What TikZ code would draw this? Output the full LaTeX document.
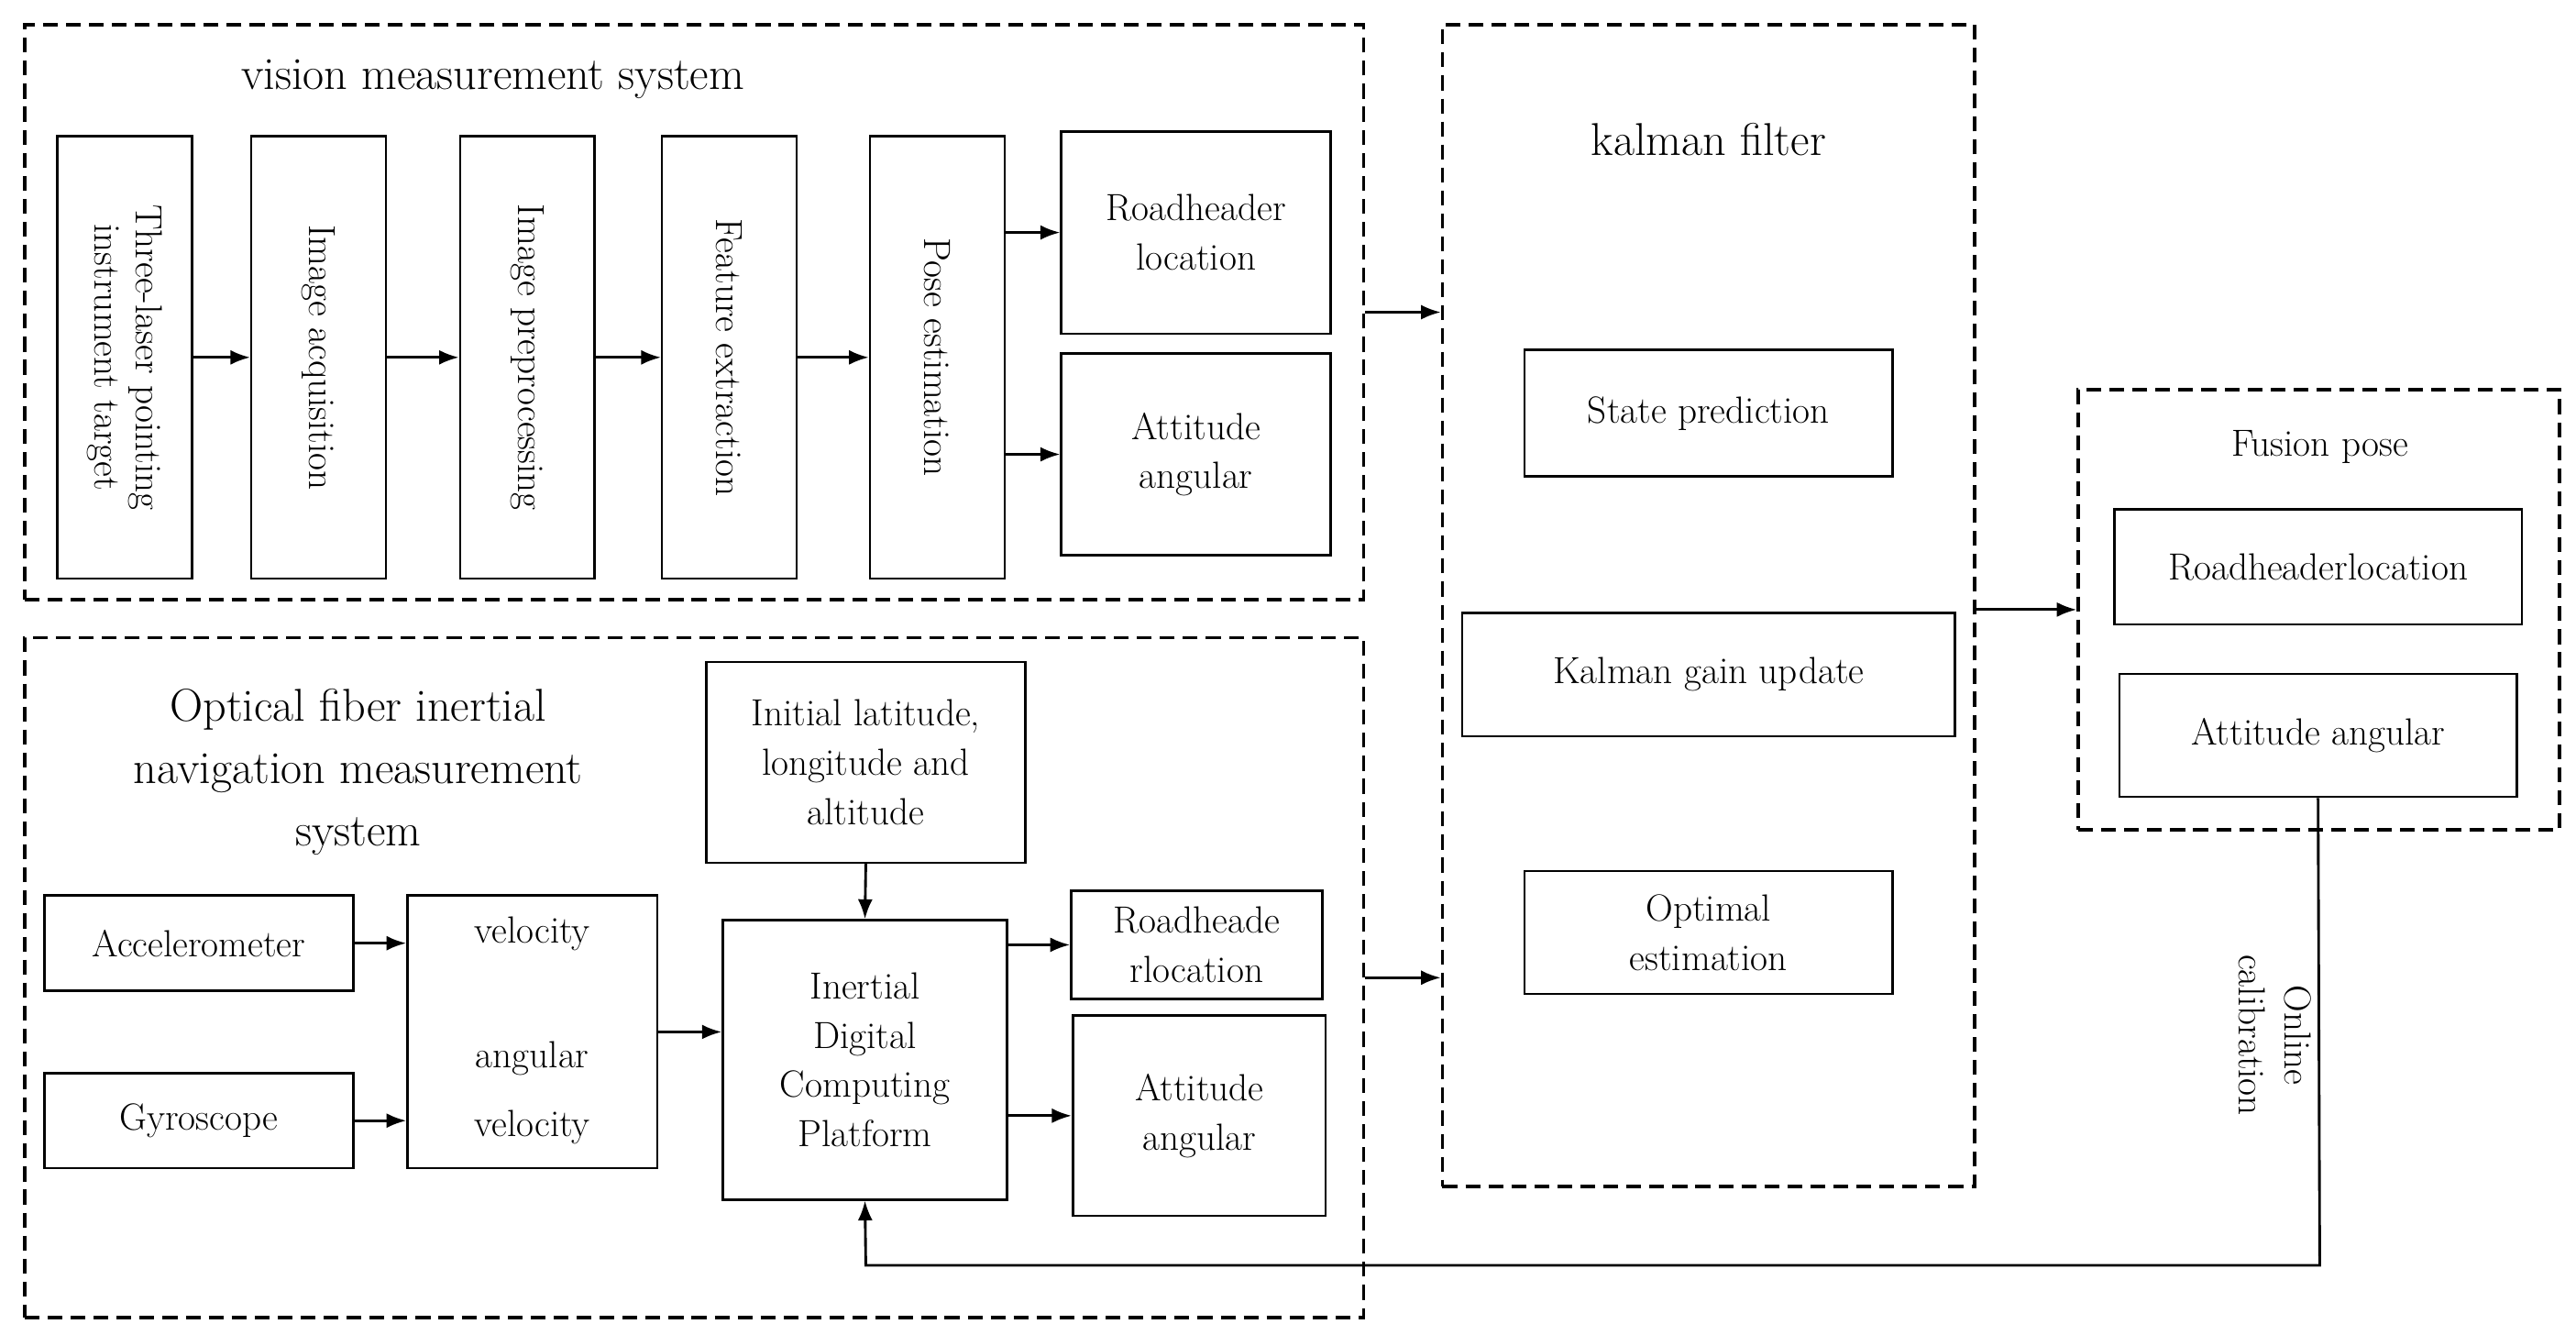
\documentclass[tikz,border=0pt]{standalone}
\usetikzlibrary{arrows.meta}
\begin{document}
\begin{tikzpicture}[x=1pt,y=-1pt,
 box/.style={draw,line width=1.4pt,align=center,inner sep=2pt,font=\fontsize{23}{30}\selectfont},
 grp/.style={draw,line width=2pt,dash pattern=on 9pt off 5pt},
 arr/.style={line width=1.6pt,-{Latex[length=12pt,width=9pt]}},
 ttl/.style={align=center,font=\fontsize{28}{38}\selectfont}]
\useasboundingbox (0,0) rectangle (1568,812);
% groups
\node[grp,minimum width=815,minimum height=350,inner sep=0] (vis) at (422.5,190) {};
\node[grp,minimum width=815,minimum height=414,inner sep=0] (ins) at (422.5,595) {};
\node[grp,minimum width=324,minimum height=707,inner sep=0] (kal) at (1040,368.5) {};
\node[grp,minimum width=293,minimum height=268,inner sep=0] (fus) at (1411.5,371) {};
\node[ttl] (tv) at (300,48) {vision measurement system};
\node[ttl] (tk) at (1040,85) {kalman filter};
\node[ttl,font=\fontsize{23}{28}\selectfont] (tf) at (1412,272) {Fusion pose};
\node[ttl] (ti) at (218,470) {Optical fiber inertial\\navigation measurement\\system};
% vision
\foreach \n/\c/\t in {a/76/{Three-laser pointing\\instrument target},b/194/Image acquisition,c/321/Image preprocessing,d/444/Feature extraction,e/570.5/Pose estimation}
  \node[box,rotate=-90,minimum width=269,minimum height=82,font=\fontsize{23}{25}\selectfont] (\n) at (\c,217.5) {\t};
\node[box,minimum width=164,minimum height=123] (vr) at (728,141.5) {Roadheader\\location};
\node[box,minimum width=164,minimum height=123] (va) at (728,276.5) {Attitude\\angular};
\draw[arr] (a.north) -- (b.south);
\draw[arr] (b.north) -- (c.south);
\draw[arr] (c.north) -- (d.south);
\draw[arr] (d.north) -- (e.south);
\draw[arr] (vr.west -| e.north) -- (vr.west);
\draw[arr] (va.west -| e.north) -- (va.west);
% kalman
\node[box,minimum width=224,minimum height=77] (sp) at (1040,251.5) {State prediction};
\node[box,minimum width=300,minimum height=75] (kg) at (1040,410.5) {Kalman gain update};
\node[box,minimum width=224,minimum height=75] (oe) at (1040,567.5) {Optimal\\estimation};
% fusion
\node[box,minimum width=248,minimum height=70] (fr) at (1411,345) {Roadheaderlocation};
\node[box,minimum width=242,minimum height=75] (fa) at (1411,447.5) {Attitude angular};
% inertial
\node[box,minimum width=194,minimum height=122] (il) at (527,464) {Initial latitude,\\longitude and\\altitude};
\node[box,minimum width=173,minimum height=170] (ip) at (526.5,645) {Inertial\\Digital\\Computing\\Platform};
\node[box,minimum width=153,minimum height=66] (ir) at (728.5,575) {Roadheade\\rlocation};
\node[box,minimum width=154,minimum height=122] (ia) at (730,679) {Attitude\\angular};
\node[box,minimum width=188,minimum height=58] (acc) at (121,574) {Accelerometer};
\node[box,minimum width=188,minimum height=58] (gy) at (121,682) {Gyroscope};
\node[box,minimum width=152,minimum height=166] (vel) at (324,628) {};
\node[font=\fontsize{23}{30}\selectfont,align=center] (vt1) at (324,568) {velocity};
\node[font=\fontsize{23}{42}\selectfont,align=center] (vt2) at (324,665) {angular\\velocity};
\draw[arr] (acc.east) -- (acc.east -| vel.west);
\draw[arr] (gy.east) -- (gy.east -| vel.west);
\draw[arr] (vel.east) -- (vel.east -| ip.west);
\draw[arr] (il.south) -- (ip.north);
\draw[arr] (ir.west -| ip.east) -- (ir.west);
\draw[arr] (ia.west -| ip.east) -- (ia.west);
% between groups
\draw[arr] (vis.east) -- (vis.east -| kal.west);
\draw[arr] (ins.east) -- (ins.east -| kal.west);
\draw[arr] (fus.west -| kal.east) -- (fus.west);
\coordinate (c1) at (1412,770);
\coordinate (c2) at (527,770);
\draw[arr] (fa.south) -- (c1) -- (c2) -- (ip.south);
\node[font=\fontsize{23}{28}\selectfont,align=center,rotate=-90] (oc) at (1385,630) {Online\\calibration};
\end{tikzpicture}
\end{document}
